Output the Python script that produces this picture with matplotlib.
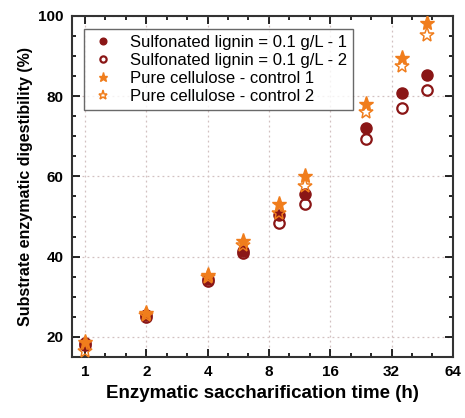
import numpy as np
import matplotlib

matplotlib.use("Agg")

import matplotlib.pyplot as plt  # isort: skip
from matplotlib.ticker import FixedLocator, FixedFormatter, MultipleLocator

plt.rcParams["font.family"] = ["Liberation Sans", "DejaVu Sans"]

# sampling times (h)
time_h = [1, 2, 4, 6, 9, 12, 24, 36, 48]

# substrate enzymatic digestibility (%)
lignin_1 = [18.5, 25.5, 34.5, 41.5, 50.5, 55.6, 72.0, 80.8, 85.2]
lignin_2 = [18.0, 25.0, 34.0, 41.0, 48.5, 53.2, 69.3, 77.0, 81.5]
control_1 = [18.8, 26.0, 35.5, 44.0, 53.0, 60.2, 78.0, 89.5, 98.2]
control_2 = [16.5, 25.5, 35.0, 43.0, 51.0, 57.6, 76.0, 87.5, 95.3]

x_ticks = [1, 2, 4, 8, 16, 32, 64]
x_labels = ["1", "2", "4", "8", "16", "32", "64"]

dark_red = "#8a1616"
orange = "#f07d1c"

fig = plt.figure(figsize=(4.65, 4.18), dpi=100)
ax = fig.add_axes([0.155, 0.146, 0.819, 0.816])

ax.plot(time_h, lignin_1, "o", ms=8, color=dark_red, mec=dark_red,
        label="Sulfonated lignin = 0.1 g/L - 1", zorder=3)
ax.plot(time_h, lignin_2, "o", ms=7.5, mfc="none", mec=dark_red, mew=1.6,
        label="Sulfonated lignin = 0.1 g/L - 2", zorder=3)
ax.plot(time_h, control_1, "*", ms=11, color=orange, mec=orange,
        label="Pure cellulose - control 1", zorder=4)
ax.plot(time_h, control_2, "*", ms=11, mfc="none", mec=orange, mew=1.1,
        label="Pure cellulose - control 2", zorder=4)

ax.set_xscale("log", base=2)
ax.set_xlim(2 ** -0.21, 64)
ax.set_ylim(15, 100)

ax.xaxis.set_major_locator(FixedLocator(x_ticks))
ax.xaxis.set_major_formatter(FixedFormatter(x_labels))
minor = [2 ** (k / 3) for k in range(-1, 19) if k % 3 != 0]
ax.xaxis.set_minor_locator(FixedLocator(minor))
ax.xaxis.set_minor_formatter(FixedFormatter([""] * len(minor)))
ax.yaxis.set_major_locator(MultipleLocator(20))
ax.yaxis.set_minor_locator(MultipleLocator(5))

ax.tick_params(which="both", direction="in", top=True, right=True, width=1.2)
ax.tick_params(which="major", length=6, labelsize=11, pad=6)
ax.tick_params(which="minor", length=3)
for lab in ax.get_xticklabels() + ax.get_yticklabels():
    lab.set_fontweight("bold")
for sp in ax.spines.values():
    sp.set_linewidth(1.5)
    sp.set_color("#333333")

ax.grid(True, which="major", linestyle=(0, (1.5, 2.5)), color="#d2c0c0", linewidth=0.9)

ax.set_xlabel("Enzymatic saccharification time (h)", fontsize=13.5, fontweight="bold")
ax.set_ylabel("Substrate enzymatic digestibility (%)", fontsize=11.5, fontweight="bold")

ax.legend(loc="upper left", fontsize=12, frameon=True, fancybox=False,
          edgecolor="#444444", handletextpad=0.8, borderpad=0.35,
          labelspacing=0.18, markerscale=0.6, handlelength=1.6,
          bbox_to_anchor=(0.01, 0.985))

fig.savefig("out.png", dpi=100)
